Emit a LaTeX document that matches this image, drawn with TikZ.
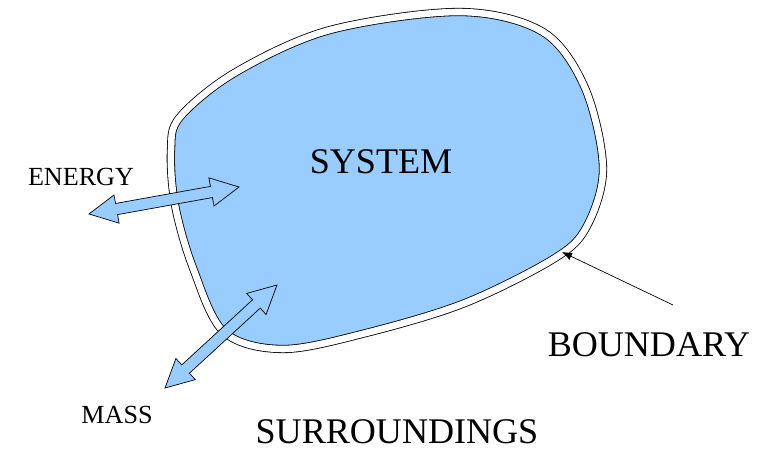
\documentclass[tikz,border=0pt]{standalone}
\usepackage{fontspec}
\setmainfont{Liberation Serif}
\usepackage{tikz}
\usetikzlibrary{calc, arrows.meta}

\definecolor{sysblue}{RGB}{153,204,255}

% sizes of the block arrows
\newcommand{\blkheadlen}{0.84cm}
\newcommand{\blkheadwid}{0.43cm}
\newcommand{\blkshaftwid}{0.17cm}

% double headed block arrow between two named coordinates
\newcommand{\flowarrow}[2]{%
	\draw[blockarrow] (#1)
	-- ($(#1)!\blkheadlen!(#2)!\blkheadwid!90:(#2)$)
	-- ($(#1)!\blkheadlen!(#2)!\blkshaftwid!90:(#2)$)
	-- ($(#2)!\blkheadlen!(#1)!\blkshaftwid!-90:(#1)$)
	-- ($(#2)!\blkheadlen!(#1)!\blkheadwid!-90:(#1)$)
	-- (#2)
	-- ($(#2)!\blkheadlen!(#1)!\blkheadwid!90:(#1)$)
	-- ($(#2)!\blkheadlen!(#1)!\blkshaftwid!90:(#1)$)
	-- ($(#1)!\blkheadlen!(#2)!\blkshaftwid!-90:(#2)$)
	-- ($(#1)!\blkheadlen!(#2)!\blkheadwid!-90:(#2)$)
	-- cycle;}

\begin{document}
\begin{tikzpicture}[x=0.03cm, y=-0.03cm]
	
	% --- STYLES ---
	\tikzstyle{bigtext} = [inner sep=0pt, anchor=base, font=\fontsize{30.8}{36}\selectfont]
	\tikzstyle{smalltext} = [inner sep=0pt, anchor=base, font=\fontsize{22.3}{26}\selectfont]
	\tikzstyle{boundary} = [draw=black, line width=0.7pt, double=white, double distance=5.6pt, fill=sysblue]
	\tikzstyle{blockarrow} = [draw=black, line width=0.6pt, fill=sysblue, line join=miter]
	\tikzstyle{pointer} = [draw=black, line width=0.6pt, -{Latex[length=0.3cm, width=0.24cm]}]
	
	\useasboundingbox (0,0) rectangle (767,450);
	
	% --- SYSTEM AND ITS BOUNDARY ---
	\draw[boundary] plot[smooth cycle, tension=0.55] coordinates {
		(171,150) (180,117) (236,72) (330,30) (460,12) (543,32)
		(585,88) (603,168) (587,226) (555,258) (465,303) (366,333)
		(283,349) (224,332) (193,268) (175,205)};
	
	% --- TEXTS ---
	\node (system) [bigtext] at (381,173) {SYSTEM};
	\node (boundarytext) [bigtext] at (649,356) {BOUNDARY};
	\node (surroundings) [bigtext] at (397,443) {SURROUNDINGS};
	\node (energy) [smalltext] at (81,185) {ENERGY};
	\node (mass) [smalltext] at (117,423) {MASS};
	
	% --- FLOWS ACROSS THE BOUNDARY ---
	\coordinate (energyout) at (89,214);
	\coordinate (energyin) at (239,187);
	\coordinate (massout) at (165,388);
	\coordinate (massin) at (277,285);
	\flowarrow{energyout}{energyin}
	\flowarrow{massout}{massin}
	
	% --- POINTER TO THE BOUNDARY ---
	\coordinate (ptrtail) at (673,305);
	\coordinate (ptrtip) at (562,252);
	\draw[pointer] (ptrtail) -- (ptrtip);
	
\end{tikzpicture}
\end{document}
